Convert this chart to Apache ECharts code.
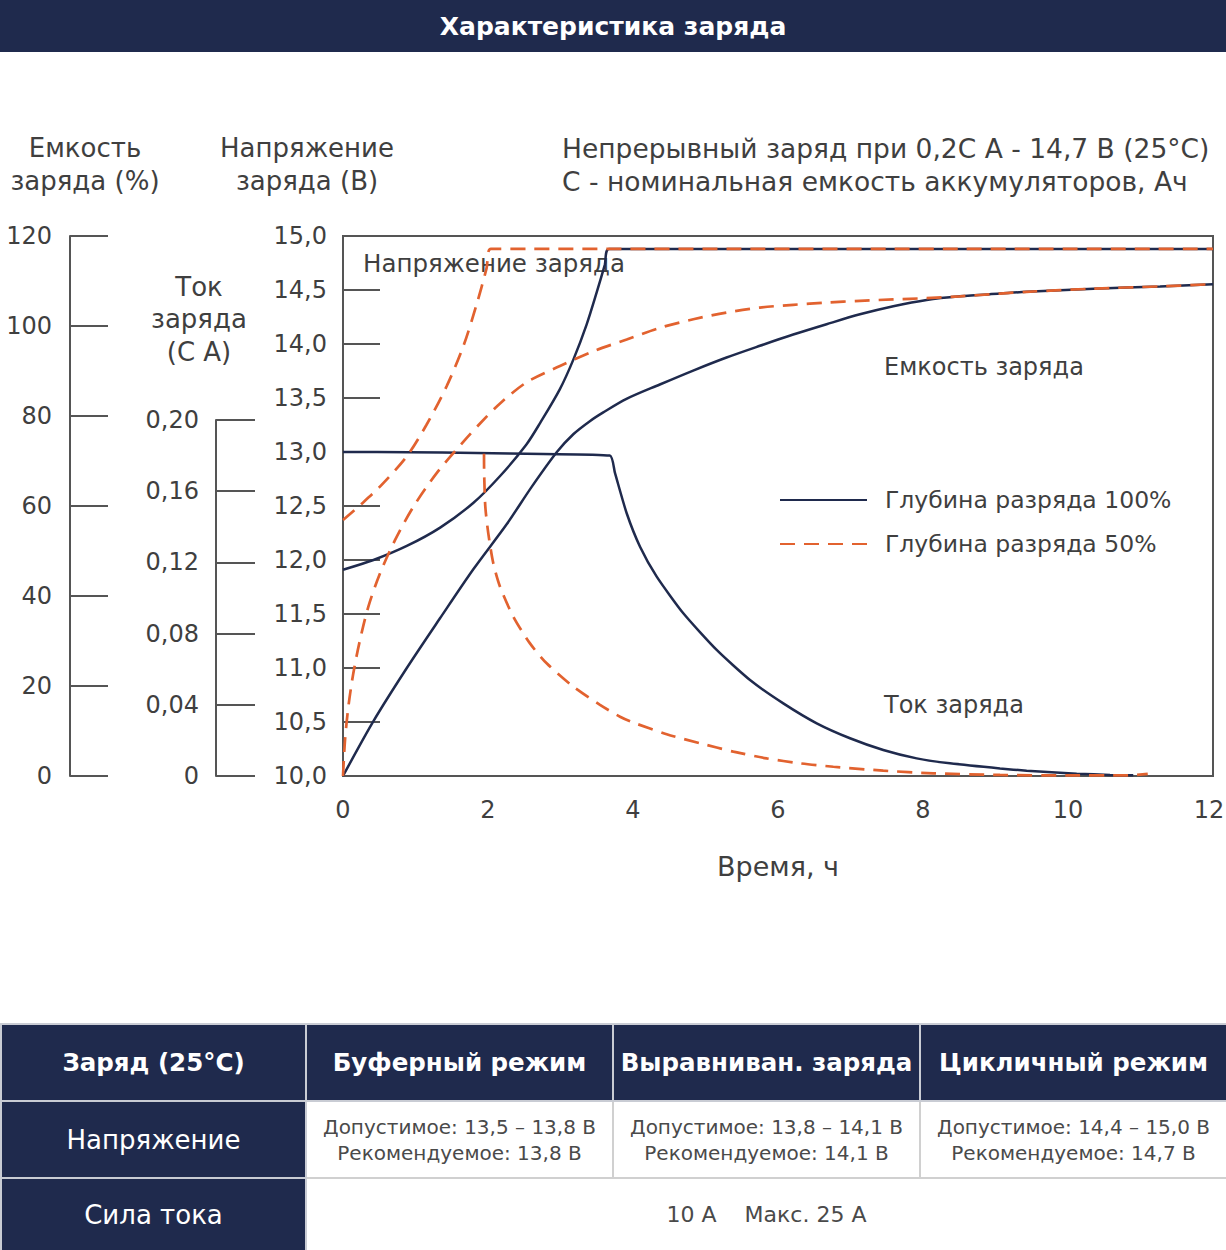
<!DOCTYPE html>
<html lang="ru">
<head>
<meta charset="UTF-8">
<title>Характеристика заряда</title>
<script src="https://cdn.jsdelivr.net/npm/echarts@6/dist/echarts.min.js"></script>
<style>
    html, body { margin: 0; padding: 0; background: #fff; }
    body { width: 1226px; height: 1250px; overflow: hidden; font-family: 'DejaVu Sans', sans-serif; }
    #main { width: 1226px; height: 1023px; }
    table.spec { width: 1226px; height: 227px; border-collapse: collapse; table-layout: fixed; }
    table.spec td { text-align: center; vertical-align: middle; color: #4a4a4a; border: 2px solid #d0d0d0; padding: 0; }
    table.spec td.dark { background: #1f2a4d; color: #fff; border-color: #c9ccd4; }
    table.spec tr.head { height: 77px; }
    table.spec tr.volt { height: 77px; }
    table.spec tr.cur { height: 73px; }
    table.spec tr.head td { font-weight: bold; font-size: 24.5px; }
    table.spec tr.volt td { font-size: 20px; line-height: 26px; }
    table.spec tr.volt td.dark, table.spec tr.cur td.dark { font-size: 26px; }
    table.spec tr.cur td { font-size: 22px; }
</style>
</head>
<body>
<div id="main"></div>
<table class="spec">
    <colgroup><col style="width:305px"><col style="width:307px"><col style="width:307px"><col style="width:307px"></colgroup>
    <tr class="head">
        <td class="dark">Заряд (25°С)</td>
        <td class="dark">Буферный режим</td>
        <td class="dark">Выравниван. заряда</td>
        <td class="dark">Цикличный режим</td>
    </tr>
    <tr class="volt">
        <td class="dark">Напряжение</td>
        <td>Допустимое: 13,5 – 13,8 В<br>Рекомендуемое: 13,8 В</td>
        <td>Допустимое: 13,8 – 14,1 В<br>Рекомендуемое: 14,1 В</td>
        <td>Допустимое: 14,4 – 15,0 В<br>Рекомендуемое: 14,7 В</td>
    </tr>
    <tr class="cur">
        <td class="dark">Сила тока</td>
        <td colspan="3">10 А&nbsp;&nbsp;&nbsp;&nbsp;Макс. 25 А</td>
    </tr>
</table>
<script>
// время, ч
var voltT100 = [0, 0.42, 0.88, 1.34, 1.80, 2.17, 2.53, 2.72, 2.99, 3.18, 3.36, 3.50, 3.61, 3.67, 12];
var voltV100 = [11.91, 12.00, 12.13, 12.30, 12.53, 12.78, 13.07, 13.27, 13.58, 13.86, 14.18, 14.48, 14.73, 14.88, 14.88];
var voltT50 = [0, 0.24, 0.51, 0.88, 1.15, 1.43, 1.66, 1.84, 1.98, 2.04, 12];
var voltV50 = [12.37, 12.51, 12.68, 12.96, 13.25, 13.61, 13.98, 14.36, 14.70, 14.88, 14.88];

var capT100 = [0, 0.42, 0.88, 1.34, 1.80, 2.26, 2.60, 2.95, 3.18, 3.40, 3.59, 3.91, 4.37, 4.83, 5.29, 5.75, 6.21, 6.67, 7.13, 7.59, 8.05, 8.51, 9.06, 9.43, 10.35, 11.27, 12];
var capV100 = [0, 12.2, 24.0, 35.1, 46.0, 56.0, 64.2, 72.0, 76.0, 78.8, 80.8, 83.8, 87.0, 90.1, 93.0, 95.6, 98.1, 100.4, 102.6, 104.4, 105.8, 106.6, 107.2, 107.6, 108.3, 108.8, 109.3];
var capT50 = [0, 0.028, 0.074, 0.142, 0.234, 0.349, 0.51, 0.717, 0.97, 1.292, 1.683, 1.9, 2.166, 2.534, 2.993, 3.453, 3.913, 4.372, 4.832, 5.292, 5.752, 6.21, 6.67, 7.13, 7.59, 8.05, 8.51, 9.06, 9.43, 10.35, 11.27, 12];
var capV50 = [0, 8.0, 15.4, 22.8, 30.2, 37.6, 45.0, 52.4, 59.8, 67.3, 74.7, 78.5, 82.8, 87.5, 91.1, 94.4, 97.0, 99.6, 101.5, 103.0, 104.1, 104.7, 105.2, 105.6, 105.9, 106.2, 106.6, 107.2, 107.6, 108.3, 108.8, 109.3];

var curT100 = [0, 0.9, 1.84, 2.76, 3.68, 3.752, 3.913, 4.097, 4.327, 4.694, 5.154, 5.614, 6.073, 6.534, 6.993, 7.452, 7.913, 8.372, 9.062, 9.43, 10.12, 10.58, 10.9];
var curV100 = [0.1820, 0.1819, 0.1815, 0.1809, 0.1800, 0.1701, 0.1476, 0.1288, 0.1120, 0.0914, 0.0708, 0.0539, 0.0408, 0.0296, 0.0212, 0.0146, 0.0099, 0.0071, 0.0042, 0.0030, 0.0013, 0.0006, 0.0004];
var curT50 = [1.945, 1.947, 1.963, 2.004, 2.073, 2.166, 2.349, 2.579, 2.809, 3.177, 3.545, 3.821, 4.005, 4.465, 4.924, 5.384, 5.844, 6.303, 6.763, 7.452, 8.14, 9.062, 10.0, 10.8, 11.1];
var curV50 = [0.1811, 0.1700, 0.1513, 0.1363, 0.1195, 0.1063, 0.0895, 0.0745, 0.0633, 0.0502, 0.0400, 0.0333, 0.0300, 0.0235, 0.0184, 0.0137, 0.0099, 0.0071, 0.0052, 0.0030, 0.0015, 0.0006, 0.0003, 0.0003, 0.0012];

var timeTicks = [0, 2, 4, 6, 8, 10, 12];
var voltTicks = [10, 15, 0.5];
var capTicks = [0, 120, 20];
var curTicks = [0, 0.2, 0.04];

var NAME100 = 'Глубина разряда 100%';
var NAME50 = 'Глубина разряда 50%';
var NAVY = '#1f2a4d';
var ORANGE = '#e2622f';
var GREY = '#3f3f3f';
var AXIS = '#555555';
var FONT = 'DejaVu Sans';

function zip(ts, vs) {
    var out = [];
    for (var i = 0; i < ts.length; i ++) {
        out.push([ts[i], vs[i]]);
    }
    return out;
}

function comma(v, d) {
    return v.toFixed(d).replace('.', ',');
}

// ось тока (0..0,20) короче поля графика, поэтому ток рисуется по скрытой оси
var plotTop = 236, plotH = 540, curTop = 420;
var curMaxFull = curTicks[1] * plotH / (plotTop + plotH - curTop);

function line(name, data, yIndex, dashed, smooth) {
    return {
        name: name,
        type: 'line',
        xAxisIndex: 0,
        yAxisIndex: yIndex,
        data: data,
        symbol: 'none',
        smooth: smooth,
        silent: true,
        lineStyle: {
            color: dashed ? ORANGE : NAVY,
            width: dashed ? 2.7 : 2.5,
            type: dashed ? [15, 9] : 'solid'
        },
        itemStyle: { color: dashed ? ORANGE : NAVY },
        z: dashed ? 3 : 2
    };
}

function label(x, y, text, opts) {
    var style = {
        text: text,
        fontSize: 26,
        fontFamily: FONT,
        fill: GREY,
        align: 'left',
        verticalAlign: 'top'
    };
    for (var k in opts) style[k] = opts[k];
    return { type: 'text', x: x, y: y, style: style };
}

var myChart = echarts.init(document.getElementById('main'), null, { renderer: 'svg' });

var option = {
    animation: false,
    backgroundColor: '#fff',
    textStyle: { fontFamily: FONT },
    title: {
        text: 'Характеристика заряда',
        left: 'center',
        top: 9,
        textStyle: { color: '#fff', fontSize: 25, fontWeight: 'bold', fontFamily: FONT }
    },
    legend: {
        data: [NAME100, NAME50],
        orient: 'vertical',
        left: 779,
        top: 488,
        padding: 0,
        itemWidth: 87,
        itemHeight: 24,
        itemGap: 20,
        selectedMode: false,
        itemStyle: { opacity: 0 },
        textStyle: { fontSize: 23.5, color: GREY, lineHeight: 24, padding: [0, 0, 0, 13], fontFamily: FONT }
    },
    grid: [
        { left: 343, top: plotTop, width: 870, height: plotH, show: true, borderColor: AXIS, borderWidth: 2, backgroundColor: 'transparent', outerBoundsMode: 'none' },
        { left: 216, top: curTop, width: 1, height: plotTop + plotH - curTop, show: false, outerBoundsMode: 'none' }
    ],
    xAxis: [
        {
            gridIndex: 0,
            type: 'value',
            min: timeTicks[0],
            max: timeTicks[timeTicks.length - 1],
            interval: timeTicks[1] - timeTicks[0],
            axisLine: { show: false },
            axisTick: { show: false },
            splitLine: { show: false },
            axisLabel: {
                fontSize: 24,
                color: GREY,
                margin: 22,
                fontFamily: FONT,
                formatter: function (v) {
                    return v === timeTicks[timeTicks.length - 1] ? '{last|' + v + '}' : String(v);
                },
                rich: { last: { fontSize: 24, color: GREY, fontFamily: FONT, padding: [0, 8, 0, 0] } }
            },
            name: 'Время, ч',
            nameLocation: 'middle',
            nameGap: 77,
            nameTextStyle: { fontSize: 27, color: GREY, fontFamily: FONT }
        },
        { gridIndex: 1, type: 'value', min: 0, max: 1, show: false }
    ],
    yAxis: [
        {
            gridIndex: 0,
            type: 'value',
            position: 'left',
            min: voltTicks[0],
            max: voltTicks[1],
            interval: voltTicks[2],
            axisLine: { show: true, lineStyle: { color: AXIS, width: 2 } },
            axisTick: { show: true, inside: true, length: 37, lineStyle: { color: AXIS, width: 2 } },
            splitLine: { show: false },
            axisLabel: { fontSize: 24, color: GREY, margin: 16, fontFamily: FONT, formatter: function (v) { return comma(v, 1); } }
        },
        {
            gridIndex: 0,
            type: 'value',
            position: 'left',
            offset: 273,
            min: capTicks[0],
            max: capTicks[1],
            interval: capTicks[2],
            axisLine: { show: true, lineStyle: { color: AXIS, width: 2 } },
            axisTick: { show: true, inside: true, length: 38, lineStyle: { color: AXIS, width: 2 } },
            splitLine: { show: false },
            axisLabel: { fontSize: 24, color: GREY, margin: 18, fontFamily: FONT }
        },
        {
            gridIndex: 0,
            type: 'value',
            min: curTicks[0],
            max: curMaxFull,
            show: false
        },
        {
            gridIndex: 1,
            type: 'value',
            position: 'left',
            min: curTicks[0],
            max: curTicks[1],
            interval: curTicks[2],
            axisLine: { show: true, lineStyle: { color: AXIS, width: 2 } },
            axisTick: { show: true, inside: true, length: 39, lineStyle: { color: AXIS, width: 2 } },
            splitLine: { show: false },
            axisLabel: { fontSize: 24, color: GREY, margin: 17, fontFamily: FONT, formatter: function (v) { return v === 0 ? '0' : comma(v, 2); } }
        }
    ],
    graphic: [
        { type: 'rect', x: 0, y: 0, shape: { width: 1226, height: 52 }, style: { fill: NAVY }, z: -1 },
        label(85, 131.5, 'Емкость\nзаряда (%)', { align: 'center', lineHeight: 33 }),
        label(307, 131.5, 'Напряжение\nзаряда (В)', { align: 'center', lineHeight: 33 }),
        label(199, 270.5, 'Ток\nзаряда\n(С А)', { align: 'center', lineHeight: 32.5 }),
        label(562, 131.5, 'Непрерывный заряд при 0,2С А - 14,7 В (25°С)\nС - номинальная емкость аккумуляторов, Ач', { fontSize: 26.5, lineHeight: 33 }),
        label(363, 263, 'Напряжение заряда', { fontSize: 24.5, verticalAlign: 'middle' }),
        label(884, 367, 'Емкость заряда', { fontSize: 24, verticalAlign: 'middle' }),
        label(884, 705, 'Ток заряда', { fontSize: 24, verticalAlign: 'middle' })
    ],
    series: [
        line(NAME100, zip(voltT100, voltV100), 0, false, 0.3),
        line(NAME100, zip(capT100, capV100), 1, false, 0.3),
        line(NAME100, zip(curT100, curV100), 2, false, 0.2),
        line(NAME50, zip(voltT50, voltV50), 0, true, 0.3),
        line(NAME50, zip(capT50, capV50), 1, true, 0.3),
        line(NAME50, zip(curT50, curV50), 2, true, 0.25)
    ]
};

myChart.setOption(option);
</script>
</body>
</html>
